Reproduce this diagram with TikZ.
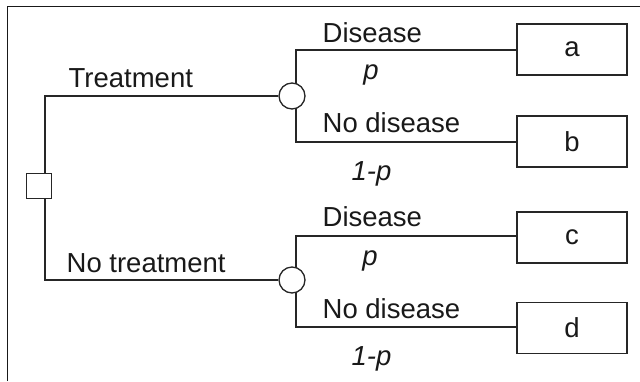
\documentclass[tikz,border=0pt]{standalone}
\usepackage{fontspec}
\setmainfont{Liberation Sans}
\begin{document}
\begin{tikzpicture}[x=1pt,y=-1pt, line width=1.3pt, draw=black!85,
 lbl/.style={font=\fontsize{27.5}{30}\selectfont, inner sep=0pt, anchor=base west, text=black!90},
 prob/.style={lbl, font=\fontsize{27.5}{30}\selectfont\itshape},
 outbox/.style={draw=black!85, minimum width=110pt, minimum height=51pt, inner sep=0pt, font=\fontsize{27.5}{30}\selectfont, text=black!90},
 chance/.style={draw=black!85, circle, minimum size=26pt, inner sep=0pt, fill=white},
 decision/.style={draw=black!85, minimum size=25pt, inner sep=0pt, fill=white}]
\useasboundingbox (0,0) rectangle (640,381);
\draw[line width=1pt, black!90] (7,381) -- (7,6) -- (640,6);

% outcome boxes
\node[outbox] (a) at (572,49.5) {a};
\node[outbox] (b) at (572,141.5) {b};
\node[outbox] (c) at (572,237.5) {c};
\node[outbox] (d) at (572,328) {d};

% corner coordinates
\coordinate (u1) at (296,50);
\coordinate (u2) at (296,142);
\coordinate (l1) at (296,236);
\coordinate (l2) at (296,327);
\coordinate (t1) at (45,96);
\coordinate (t2) at (45,280);

% chance branches
\draw (a.west |- u1) -- (u1) -- (u2) -- (b.west |- u2);
\draw (c.west |- l1) -- (l1) -- (l2) -- (d.west |- l2);

% chance and decision nodes
\node[chance] (c1) at (292,96) {};
\node[chance] (c2) at (292,280) {};
\node[decision] (dec) at (39,186) {};

% decision branches
\draw (dec.north -| t1) -- (t1) -- (c1);
\draw (dec.south -| t2) -- (t2) -- (c2);

% labels
\node[lbl] (treat) at (68,87) {Treatment};
\node[lbl] (notreat) at (66,272) {No treatment};
\node[lbl] (dis1) at (322,42) {Disease};
\node[lbl] (nodis1) at (322,132) {No disease};
\node[lbl] (dis2) at (322,226) {Disease};
\node[lbl] (nodis2) at (322,318) {No disease};
\node[prob, anchor=base] (p1) at (371,79) {p};
\node[prob, anchor=base] (p2) at (370,265) {p};
\node[prob] (q1) at (351,180) {1-p};
\node[prob] (q2) at (351,365) {1-p};
\end{tikzpicture}
\end{document}
